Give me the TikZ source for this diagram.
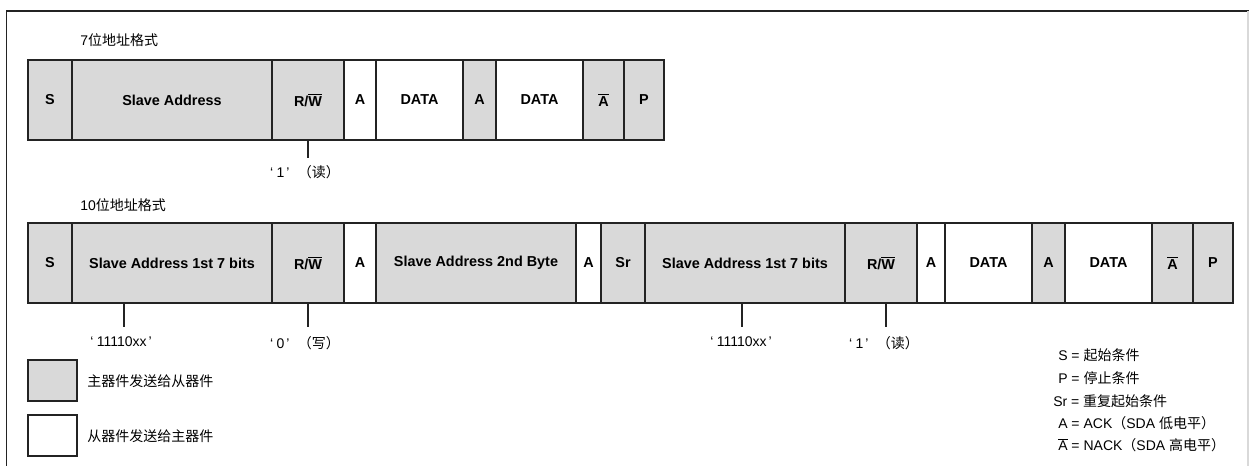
\documentclass[tikz,border=0pt]{standalone}
\usepackage{fontspec}
\setmainfont{Liberation Sans}
\newfontfamily\cjk{Noto Sans CJK SC}
\usetikzlibrary{positioning}
\definecolor{msgG}{RGB}{217,217,217}
\definecolor{lineK}{RGB}{35,35,35}
\newcommand{\rwbar}{R/\ensuremath{\overline{\mbox{W}}}}
\newcommand{\nackA}{\ensuremath{\overline{\mbox{A}}}}
\newcommand{\qt}[1]{‘\kern2.5pt#1\kern1.5pt’}
\tikzset{cell/.style={draw=lineK, line width=0.8pt, minimum height=60pt, inner sep=0pt,
  font=\bfseries\fontsize{10.8}{12}\selectfont},
  mst/.style={cell, fill=msgG}, slv/.style={cell, fill=white},
  bitline/.style={lineK, line width=0.8pt},
  note/.style={inner sep=0pt, font=\fontsize{10.5}{12}\selectfont}}

\begin{document}
\begin{tikzpicture}[x=0.75pt, y=-0.75pt]
\useasboundingbox (0,0) rectangle (1249,466);
% frame
\draw[lineK, line width=1.3pt] (6.5,466) -- (6.5,11) -- (1249,11);
\draw[black!15, line width=0.8pt] (1248,11) -- (1248,466);
% top: 7-bit address
\node[note, anchor=west] (t7) at (80,40) {7{\cjk 位地址格式}};
\foreach \l/\r/\s/\t/\n in {28/72/mst/S/a1, 72/272/mst/Slave Address/a2, 272/344/mst/\rwbar/a3,
  344/376/slv/A/a4, 376/463/slv/DATA/a5, 463/496/mst/A/a6, 496/583/slv/DATA/a7,
  583/624/mst/\nackA/a8, 624/664/mst/P/a9}
  \node[\s, minimum width={(\r-\l)*0.75pt}] (\n) at ({(\l+\r)/2},100) {\t};
\node[note, anchor=north] (r7) at (305,165) {\qt{1}\hspace{0.6em}{\cjk （读）}};
\draw[bitline] (a3.south) -- (a3.south |- 0,158);
% bottom: 10-bit address
\node[note, anchor=west] (t10) at (80,205) {10{\cjk 位地址格式}};
\foreach \l/\r/\s/\t/\n in {28/72/mst/S/b1, 72/272/mst/Slave Address 1st 7 bits/b2,
  272/344/mst/\rwbar/b3, 344/376/slv/A/b4, 376/576/mst/Slave Address 2nd Byte/b5,
  576/601/slv/A/b6, 601/645/mst/Sr/b7, 645/845/mst/Slave Address 1st 7 bits/b8,
  845/917/mst/\rwbar/b9, 917/945/slv/A/b10, 945/1032/slv/DATA/b11, 1032/1065/mst/A/b12,
  1065/1152/slv/DATA/b13, 1152/1193/mst/\nackA/b14, 1193/1233/mst/P/b15}
  \node[\s, minimum width={(\r-\l)*0.75pt}] (\n) at ({(\l+\r)/2},263) {\t};
\node[note, anchor=north] (h1) at (121,336) {\qt{11110xx}};
\node[note, anchor=north] (w0) at (305,336) {\qt{0}\hspace{0.6em}{\cjk （写）}};
\node[note, anchor=north] (h2) at (741,336) {\qt{11110xx}};
\node[note, anchor=north] (r1) at (884,336) {\qt{1}\hspace{0.6em}{\cjk （读）}};
\foreach \c/\n/\dx in {b2/h1/3, b3/w0/3, b8/h2/1, b9/r1/2}
  \draw[bitline] ([xshift=\dx*0.75pt]\n.north |- \c.south) -- ([xshift=\dx*0.75pt]\n.north |- 0,327);
% legend
\node[mst, minimum width=36.75pt, minimum height=30.75pt] (kg) at (52.5,380.5) {};
\node[note, anchor=west, font=\fontsize{10.5}{12}\selectfont\cjk] (kgt) at (87,381) {主器件发送给从器件};
\node[slv, minimum width=36.75pt, minimum height=30.75pt] (kw) at (52.5,435.5) {};
\node[note, anchor=west, font=\fontsize{10.5}{12}\selectfont\cjk] (kwt) at (87,436) {从器件发送给主器件};
\node[note, anchor=west] (ks) at (1058,355) {S = {\cjk 起始条件}};
\node[note, anchor=west] (kp) at (1058,378) {P = {\cjk 停止条件}};
\node[note, anchor=west] (ksr) at (1053,401) {Sr = {\cjk 重复起始条件}};
\node[note, anchor=west] (ka) at (1058,423) {A = ACK{\cjk （}SDA {\cjk 低电平）}};
\node[note, anchor=west] (kn) at (1058,445) {\nackA{} = NACK{\cjk （}SDA {\cjk 高电平）}};
\end{tikzpicture}
\end{document}
